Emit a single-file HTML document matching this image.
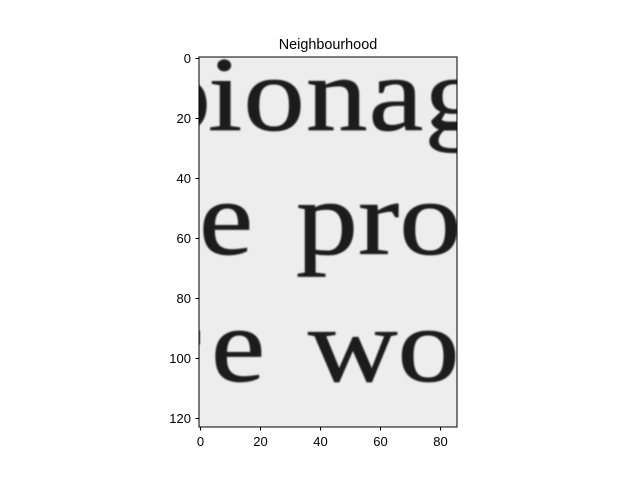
<!DOCTYPE html>
<html><head><meta charset="utf-8"><style>
body{margin:0;background:#fff;width:640px;height:480px;overflow:hidden;font-family:"Liberation Sans",sans-serif}
</style></head><body>
<svg width="640" height="480" viewBox="0 0 640 480">
<defs>
<clipPath id="ax"><rect x="199" y="57" width="258" height="370"/></clipPath>
<filter id="bl"><feGaussianBlur stdDeviation="0.9"/></filter>
</defs>
<text x="328" y="49" font-size="14.4" text-anchor="middle" fill="#000">Neighbourhood</text>
<g clip-path="url(#ax)">
<rect x="199" y="57" width="258" height="370" fill="#ededed"/>
<g font-family="'Liberation Serif',serif" font-size="106" fill="#1a1a1a" stroke="#1a1a1a" stroke-width="0.7" filter="url(#bl)">
<text transform="translate(150,130) scale(1.15,1)">p</text>
<text transform="translate(208,130) scale(1.16,1)" letter-spacing="1">ionag</text>
<text transform="translate(199,254) scale(1.15,1)">e</text>
<text transform="translate(296,254) scale(1.17,1)">pro</text>
<text transform="translate(160,381) scale(1.15,1)">r</text>
<text transform="translate(211,381) scale(1.15,1)">e</text>
<text transform="translate(308,381) scale(1.17,1)">wo</text>
</g>
</g>
<rect x="199" y="57" width="258" height="370" fill="none" stroke="#000" stroke-width="1"/>
<g id="ticks" font-size="13" fill="#000"></g>
<script>
const xTicks=[0,20,40,60,80];
const yTicks=[0,20,40,60,80,100,120];
const xs=v=>200.5+v*3, ys=v=>58.5+v*3;
const g=document.getElementById('ticks');
const ns='http://www.w3.org/2000/svg';
xTicks.forEach(v=>{
 const l=document.createElementNS(ns,'line');
 
 
 l.setAttribute('x1',xs(v));l.setAttribute('x2',xs(v));l.setAttribute('y1',427);l.setAttribute('y2',430.5);l.setAttribute('stroke','#000');g.appendChild(l);
 const t=document.createElementNS(ns,'text');
 
 
 t.setAttribute('x',xs(v));t.setAttribute('y',446);t.setAttribute('text-anchor','middle');t.textContent=v;g.appendChild(t);
});
yTicks.forEach(v=>{
 const l=document.createElementNS(ns,'line');
 
 
 l.setAttribute('x1',195.5);l.setAttribute('x2',199);l.setAttribute('y1',ys(v));l.setAttribute('y2',ys(v));l.setAttribute('stroke','#000');g.appendChild(l);
 const t=document.createElementNS(ns,'text');
 
 
 t.setAttribute('x',191);t.setAttribute('y',ys(v)+4.5);t.setAttribute('text-anchor','end');t.textContent=v;g.appendChild(t);
});
</script>
</svg>
</body></html>
